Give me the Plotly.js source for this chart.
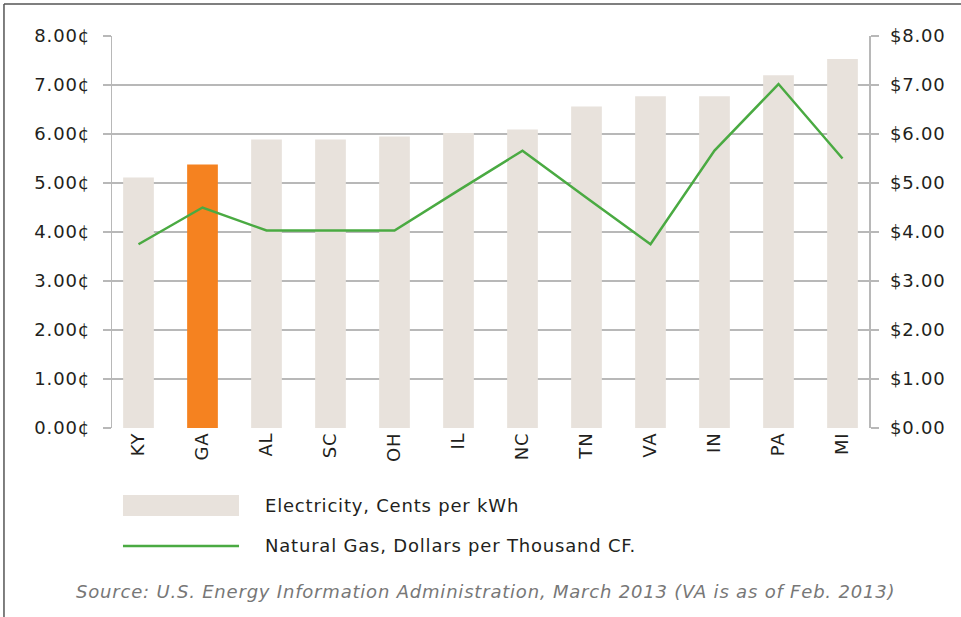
<!DOCTYPE html>
<html>
<head>
<meta charset="utf-8">
<script src="https://cdn.plot.ly/plotly-3.0.1.min.js"></script>
<style>html,body{margin:0;padding:0;background:#fff;}#chart{width:961px;height:617px;} svg text{letter-spacing:0.8px;}</style>
</head>
<body>
<div id="chart"></div>
<script>
const states = ["KY","GA","AL","SC","OH","IL","NC","TN","VA","IN","PA","MI"];
const electricityCents = [5.11, 5.38, 5.89, 5.89, 5.95, 6.02, 6.09, 6.56, 6.77, 6.77, 7.20, 7.53];
const gasDollars = [3.75, 4.50, 4.03, 4.03, 4.03, 4.85, 5.66, 4.70, 3.75, 5.66, 7.02, 5.50];
const highlightState = "GA";
const yTicks = [0, 1, 2, 3, 4, 5, 6, 7, 8];
const leftTickText = yTicks.map(v => v.toFixed(2) + "¢");
const rightTickText = yTicks.map(v => "$" + v.toFixed(2));
const legendLabels = ["Electricity, Cents per kWh", "Natural Gas, Dollars per Thousand CF."];
const sourceNote = "Source: U.S. Energy Information Administration, March 2013 (VA is as of Feb. 2013)";

const beige = "#e8e2dc", orange = "#f58220", green = "#4aaa42";
const font = "DejaVu Sans, sans-serif";

const traces = [
  {type: "bar", x: states, y: electricityCents, name: legendLabels[0],
   marker: {color: states.map(s => s === highlightState ? orange : beige)},
   width: 0.48, hoverinfo: "x+y"},
  {type: "scatter", mode: "lines", x: states, y: gasDollars, name: legendLabels[1],
   yaxis: "y2", line: {color: green, width: 2.5}}
];

const layout = {
  width: 961, height: 617,
  margin: {l: 112, r: 92, t: 36, b: 189},
  paper_bgcolor: "#fff", plot_bgcolor: "#fff",
  showlegend: false,
  font: {family: font, size: 18, color: "#231f20"},
  xaxis: {type: "category", range: [-0.414, 11.414], tickangle: -90, showgrid: false, ticks: "",
          showline: false, zeroline: false, tickfont: {size: 18}, ticklen: 0},
  yaxis: {range: [0, 8], tickmode: "array", tickvals: yTicks, ticktext: leftTickText,
          showgrid: true, gridcolor: "#b8b8b8", gridwidth: 1.5,
          ticks: "outside", ticklen: 8, tickcolor: "#b8b8b8", tickwidth: 1.5,
          ticklabelstandoff: 9,
          showline: true, linecolor: "#b8b8b8", linewidth: 1.5, zeroline: false,
          tickfont: {size: 18}},
  yaxis2: {range: [0, 8], tickmode: "array", tickvals: yTicks, ticktext: rightTickText,
           overlaying: "y", side: "right", showgrid: false,
           ticks: "outside", ticklen: 8, tickcolor: "#b8b8b8", tickwidth: 1.5,
           ticklabelstandoff: 8,
           showline: true, linecolor: "#b8b8b8", linewidth: 1.5, zeroline: false,
           tickfont: {size: 18}},
  shapes: [
    {type: "rect", xref: "paper", yref: "paper", x0: 0.0145, x1: 0.1678, y0: -0.2245, y1: -0.171,
     fillcolor: beige, line: {width: 0}},
    {type: "line", xref: "paper", yref: "paper", x0: 0.0145, x1: 0.1678, y0: -0.301, y1: -0.301,
     line: {color: green, width: 2.5}},
    {type: "line", xref: "paper", yref: "paper", x0: -0.1427, x1: -0.1427, y0: 1.0816, y1: -0.49,
     line: {color: "#555", width: 1.5}},
    {type: "line", xref: "paper", yref: "paper", x0: -0.1427, x1: 1.2, y0: 1.0816, y1: 1.0816,
     line: {color: "#555", width: 1.5}}
  ],
  annotations: [
    {xref: "paper", yref: "paper", x: 0.1995, y: -0.1985, xanchor: "left", yanchor: "middle",
     text: legendLabels[0], showarrow: false, font: {size: 18, color: "#231f20"}},
    {xref: "paper", yref: "paper", x: 0.1995, y: -0.301, xanchor: "left", yanchor: "middle",
     text: legendLabels[1], showarrow: false, font: {size: 18, color: "#231f20"}},
    {xref: "paper", yref: "paper", x: 0.494, y: -0.418, xanchor: "center", yanchor: "middle",
     text: "<i>" + sourceNote + "</i>", showarrow: false, font: {size: 18, color: "#777"}}
  ]
};

Plotly.newPlot("chart", traces, layout, {displayModeBar: false, staticPlot: true});
</script>
</body>
</html>
